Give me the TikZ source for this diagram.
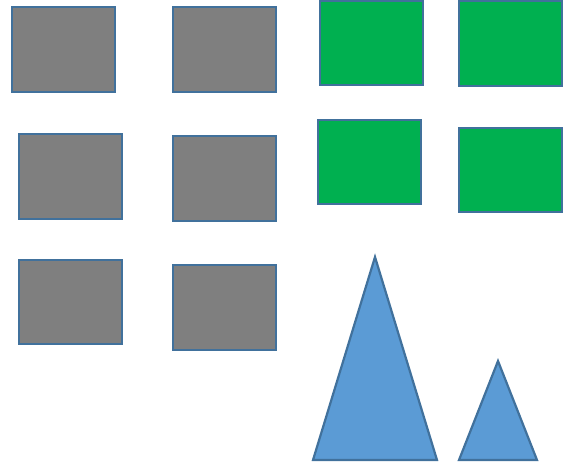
\documentclass[tikz,border=0pt]{standalone}
\usepackage{xcolor}
\definecolor{boxgray}{HTML}{7F7F7F}
\definecolor{boxgreen}{HTML}{00B050}
\definecolor{triblue}{HTML}{5B9BD5}
\definecolor{edgeblue}{HTML}{41719C}

\begin{document}
\begin{tikzpicture}[x=1pt,y=-1pt,line width=2.2pt]
\useasboundingbox (0,0) rectangle (565,469);
\foreach \xa/\ya/\xb/\yb in {12/7/115/92,173/7/276/92,19/134/122/219,173/136/276/221,19/260/122/344,173/265/276/350}{
\draw[edgeblue,fill=boxgray] (\xa,\ya) rectangle (\xb,\yb);}
\foreach \xa/\ya/\xb/\yb in {320/1/423/85,459/1/562/86,318/120/421/204,459/128/562/212}{
\draw[edgeblue,fill=boxgreen] (\xa,\ya) rectangle (\xb,\yb);}
\draw[edgeblue,fill=triblue] (313,460)--(375,257)--(437,460)--cycle;
\draw[edgeblue,fill=triblue] (459,460)--(498,361)--(537,460)--cycle;
\end{tikzpicture}
\end{document}
